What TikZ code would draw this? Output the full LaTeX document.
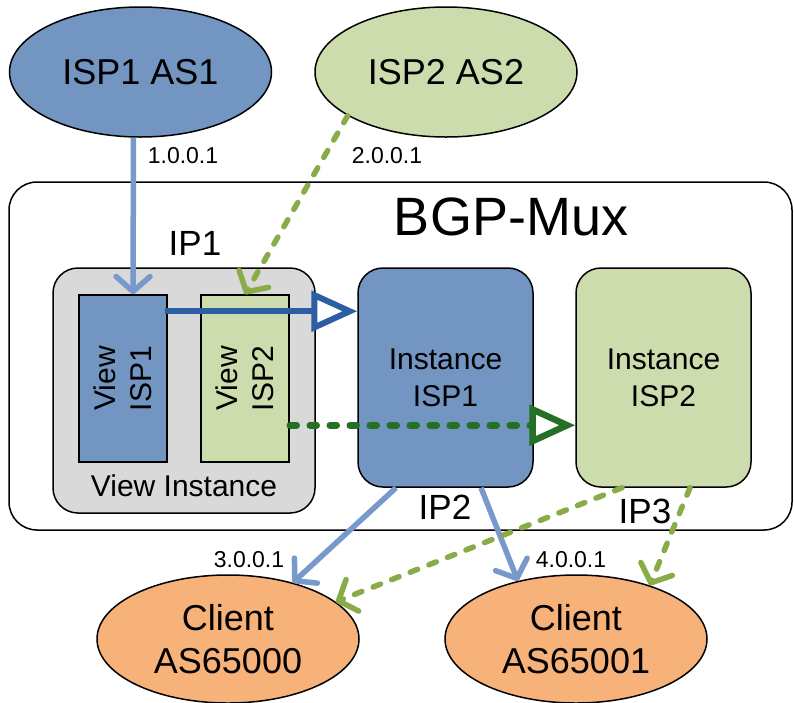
\documentclass[tikz,border=0pt]{standalone}
\usepackage{fontspec}
\setmainfont{Liberation Sans}
\usetikzlibrary{arrows.meta,shapes.geometric,calc}
\definecolor{fillblue}{RGB}{115,149,193}
\definecolor{fillgreen}{RGB}{205,220,172}
\definecolor{fillorange}{RGB}{247,178,122}
\definecolor{fillgray}{RGB}{217,217,217}
\definecolor{lineblue}{RGB}{120,154,202}
\definecolor{darkblue}{RGB}{44,94,164}
\definecolor{linegreen}{RGB}{138,172,72}
\definecolor{darkgreen}{RGB}{36,112,36}
\begin{document}
\begin{tikzpicture}[x=1pt,y=-1pt,
  isp/.style={ellipse, draw=black, line width=1.5pt, minimum width=262pt, minimum height=130pt, inner sep=0pt, font=\fontsize{36}{43}\selectfont},
  client/.style={isp, fill=fillorange, minimum height=128pt, align=center},
  inst/.style={draw=black, line width=1.5pt, rounded corners=25pt, minimum width=175pt, minimum height=219pt, inner sep=0pt, align=center, font=\fontsize{30}{37}\selectfont},
  viewbox/.style={draw=black, line width=1.5pt, minimum width=88pt, minimum height=167pt, inner sep=0pt},
  viewtext/.style={rotate=90, align=center, font=\fontsize{30}{36}\selectfont, inner sep=0pt},
  iplabel/.style={font=\fontsize{35}{42}\selectfont, inner sep=0pt},
  addr/.style={font=\fontsize{23}{28}\selectfont, inner sep=0pt},
  vtip/.style={-{Straight Barb[length=15pt,width=34pt,round]}},
  ttip/.style={-{Triangle[open,length=46pt,width=40pt]}},
  bluearrow/.style={vtip, draw=lineblue, line width=5.5pt},
  greenarrow/.style={vtip, draw=linegreen, line width=5.5pt, line cap=round, dash pattern=on 8pt off 12pt},
  darkbluearrow/.style={ttip, draw=darkblue, line width=6pt},
  darkgreenarrow/.style={ttip, draw=darkgreen, line width=6.5pt, line cap=round, dash pattern=on 7pt off 13pt}
]
\useasboundingbox (0,0) rectangle (794,702);

% BGP-Mux container
\node[draw=black, fill=white, line width=1.5pt, rounded corners=28pt, minimum width=783pt, minimum height=348pt, inner sep=0pt] (mux) at (400.5,356) {};
\node[font=\fontsize{54}{64}\selectfont, inner sep=0pt] (muxlabel) at (511,217) {BGP-Mux};

% ISPs
\node[isp, fill=fillblue] (isp1) at (140.5,72) {ISP1 AS1};
\node[isp, fill=fillgreen] (isp2) at (446,72) {ISP2 AS2};

% View instance
\node[draw=black, fill=fillgray, line width=1.5pt, rounded corners=25pt, minimum width=262pt, minimum height=245pt, inner sep=0pt] (vi) at (184,390.5) {};
\node[viewbox, fill=fillblue] (v1) at (123,378.5) {};
\node[viewbox, fill=fillgreen] (v2) at (245,378.5) {};
\node[viewtext] (v1t) at (v1) {View\\ISP1};
\node[viewtext] (v2t) at (v2) {View\\ISP2};
\node[font=\fontsize{30}{36}\selectfont, inner sep=0pt] (vilabel) at (184,486) {View Instance};

% Instances
\node[inst, fill=fillblue] (i1) at (445.5,377.5) {Instance\\ISP1};
\node[inst, fill=fillgreen] (i2) at (663.5,377.5) {Instance\\ISP2};

% Clients
\node[client] (c1) at (228,639) {Client\\AS65000};
\node[client] (c2) at (576,639) {Client\\AS65001};

% Labels
\node[iplabel] (ip1) at (195,243) {IP1};
\node[iplabel] (ip2) at (445,507) {IP2};
\node[iplabel] (ip3) at (645,511) {IP3};
\node[addr] (a1) at (183,156) {1.0.0.1};
\node[addr] (a2) at (387,156) {2.0.0.1};
\node[addr] (a3) at (249,560) {3.0.0.1};
\node[addr] (a4) at (571,560) {4.0.0.1};

% Connectors
\coordinate (s1) at ($(isp1.south)+(-7,0)$);
\coordinate (e1) at ($(v1.north)+(10,0)$);
\draw[bluearrow] (s1) -- (e1);
\draw[greenarrow] (isp2.204) -- (v2.north);

\coordinate (s3) at ($(v1.north east)+(-3,17)$);
\draw[darkbluearrow] (s3) -- (s3 -| i1.west);
\coordinate (s4) at ($(v2.north east)+(0,131)$);
\draw[darkgreenarrow] (s4) -- (s4 -| i2.west);

\draw[bluearrow] ($(i1.south)+(-49.5,0)$) -- (c1.41);
\draw[bluearrow] ($(i1.south)+(35.5,0)$) -- (c2.135);
\draw[greenarrow] ($(i2.south)+(-41.5,0)$) -- (c1.19);
\draw[greenarrow] ($(i2.south)+(26.5,0)$) -- (c2.36);
\end{tikzpicture}
\end{document}
